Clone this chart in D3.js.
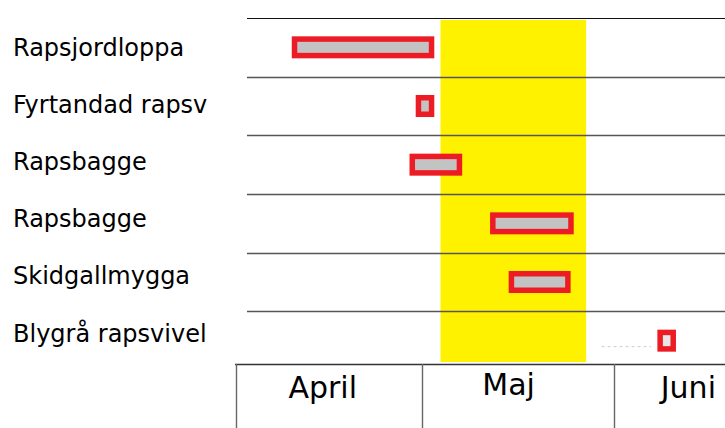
<!DOCTYPE html>
<html>
<head>
<meta charset="utf-8">
<title>Skadeinsekter i raps</title>
<script src="https://d3js.org/d3.v7.min.js"></script>
<style>
  body { margin: 0; background: #fff; }
  text { font-family: "DejaVu Sans", Verdana, sans-serif; fill: #000; }
</style>
</head>
<body>
<svg id="chart" width="725" height="428"></svg>
<script>
// pests, one row each
const pests = ["Rapsjordloppa", "Fyrtandad rapsv", "Rapsbagge", "Rapsbagge", "Skidgallmygga", "Blygrå rapsvivel"];
// period of attack for each row
const starts = ["2020-04-10", "2020-04-30", "2020-04-29", "2020-05-12", "2020-05-15", "2020-06-08"];
const ends   = ["2020-05-03", "2020-05-03", "2020-05-07T12:00", "2020-05-25T12:00", "2020-05-25", "2020-06-11"];
// faint dotted lead-in before the last bar
const leadStart = "2020-05-30", leadEnd = "2020-06-07";
// the yellow highlighted period (flowering)
const bloomStart = "2020-05-04", bloomEnd = "2020-05-27T12:00";
// months on the bottom axis
const months = ["April", "Maj", "Juni"];
const monthStarts = ["2020-04-01", "2020-05-01", "2020-06-01"];
const monthLabelAt = ["2020-04-15", "2020-05-15", "2020-06-13"];

const parse = s => new Date(s);
const svg = d3.select("#chart");

// 236px = 1 April, 614px = 1 June
const pxPerDay = (614 - 236) / 61;
const x = d3.scaleTime()
  .domain([parse("2020-04-01"), parse("2020-06-19")])
  .range([236, 236 + 79 * pxPerDay]);

const rows = d3.range(pests.length);
const y = d3.scaleBand().domain(rows).range([18, 370]);
const labelY = d3.scalePoint().domain(rows).range([47, 333]);
const axisY = 364;

// yellow period
svg.append("rect")
  .attr("x", x(parse(bloomStart)))
  .attr("y", 20)
  .attr("width", x(parse(bloomEnd)) - x(parse(bloomStart)))
  .attr("height", axisY - 2 - 20)
  .attr("fill", "#fff200");

// row gridlines
svg.append("g").selectAll("line")
  .data(rows)
  .join("line")
  .attr("x1", 247).attr("x2", 725)
  .attr("y1", d => Math.round(y(d)) + 0.5)
  .attr("y2", d => Math.round(y(d)) + 0.5)
  .attr("stroke", d => d === 0 ? "#111" : "#555")
  .attr("stroke-width", d => d === 0 ? 1.2 : 1.6);

// labels
svg.append("g").selectAll("text")
  .data(rows)
  .join("text")
  .attr("x", 13)
  .attr("y", d => labelY(d))
  .attr("dy", "0.36em")
  .attr("font-size", 24)
  .text(d => pests[d]);

// dotted lead-in
const lastRow = rows[rows.length - 1];
svg.append("line")
  .attr("x1", x(parse(leadStart))).attr("x2", x(parse(leadEnd)))
  .attr("y1", y(lastRow) + y.bandwidth() / 2 + 6)
  .attr("y2", y(lastRow) + y.bandwidth() / 2 + 6)
  .attr("stroke", "#ccc")
  .attr("stroke-width", 1)
  .attr("stroke-dasharray", "3,3");

// bars: red frame with grey inside
const barH = 22, border = 5.5;
const bars = svg.append("g").selectAll("g")
  .data(rows)
  .join("g");

bars.append("rect")
  .attr("x", d => x(parse(starts[d])))
  .attr("y", d => y(d) + (y.bandwidth() - barH) / 2)
  .attr("width", d => x(parse(ends[d])) - x(parse(starts[d])))
  .attr("height", barH)
  .attr("fill", "#ed1c24");

bars.append("rect")
  .attr("x", d => x(parse(starts[d])) + border)
  .attr("y", d => y(d) + (y.bandwidth() - barH) / 2 + border)
  .attr("width", d => Math.max(1, x(parse(ends[d])) - x(parse(starts[d])) - 2 * border))
  .attr("height", barH - 2 * border)
  .attr("fill", d => d === lastRow ? "#e6e6e6" : "#c3c3c3");

// bottom axis
svg.append("line")
  .attr("x1", 235).attr("x2", 725)
  .attr("y1", axisY + 0.5).attr("y2", axisY + 0.5)
  .attr("stroke", "#333")
  .attr("stroke-width", 1.4);

svg.append("g").selectAll("line")
  .data(monthStarts)
  .join("line")
  .attr("x1", d => Math.round(x(parse(d))) + 0.5)
  .attr("x2", d => Math.round(x(parse(d))) + 0.5)
  .attr("y1", axisY).attr("y2", 428)
  .attr("stroke", "#666")
  .attr("stroke-width", 1.4);

svg.append("g").selectAll("text")
  .data(months)
  .join("text")
  .attr("x", (d, i) => x(parse(monthLabelAt[i])))
  .attr("y", (d, i) => i === 1 ? 395 : 398)
  .attr("text-anchor", "middle")
  .attr("font-size", 30)
  .text(d => d);
</script>
</body>
</html>
